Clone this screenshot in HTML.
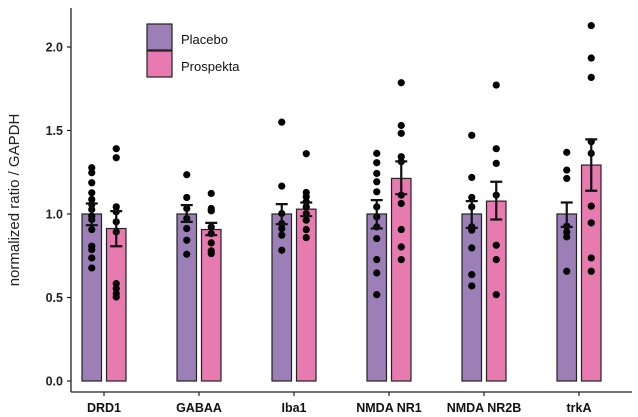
<!DOCTYPE html>
<html><head><meta charset="utf-8"><style>
body{margin:0;background:#fff}
svg{display:block;font-family:"Liberation Sans",Arial,sans-serif}
</style></head><body>
<svg id="chart" width="638" height="417">
<g id="axes"></g><g id="marks"></g>
<g>
<rect x="147" y="24" width="25" height="26" fill="#9b7fb6" stroke="#222" stroke-width="1.2"/>
<rect x="147" y="51" width="25" height="26" fill="#e77aae" stroke="#222" stroke-width="1.2"/>
<text x="181" y="44" font-size="13" fill="#111">Placebo</text>
<text x="181" y="71" font-size="13" fill="#111">Prospekta</text>
</g>
<text transform="translate(19,200) rotate(-90)" text-anchor="middle" font-size="15" fill="#222">normalized ratio / GAPDH</text>
</svg>
<script>
const categories=["DRD1","GABAA","Iba1","NMDA NR1","NMDA NR2B","trkA"];
const placeboMean=[1,1,1,1,1,1];
const placeboErrHi=[1.063,1.053,1.059,1.083,1.077,1.069];
const placeboErrLo=[0.933,0.953,0.939,0.913,0.917,0.923];
const prospektaMean=[0.913,0.907,1.029,1.213,1.077,1.293];
const prospektaErrHi=[1.017,0.947,1.069,1.315,1.193,1.447];
const prospektaErrLo=[0.807,0.873,0.987,1.119,0.967,1.139];
const placeboDots=[
[1.277,1.247,1.187,1.127,1.087,1.057,1.027,0.987,0.967,0.907,0.807,0.787,0.737,0.677],
[1.235,1.099,1.033,0.973,0.913,0.843,0.759],
[1.55,1.167,1.003,0.943,0.913,0.873,0.783],
[1.363,1.307,1.243,1.193,1.133,1.043,0.983,0.923,0.853,0.727,0.647,0.517],
[1.471,1.219,1.099,1.043,0.923,0.903,0.797,0.637,0.569],
[1.369,1.263,1.213,0.927,0.893,0.863,0.657]];
const prospektaDots=[
[1.391,1.337,1.043,1.013,0.953,0.893,0.583,0.553,0.523,0.503],
[1.123,1.033,1.019,0.923,0.883,0.827,0.779,0.763],
[1.361,1.129,1.103,1.073,1.043,1.003,0.963,0.907,0.859],
[1.786,1.53,1.483,1.343,1.313,1.113,1.063,0.907,0.803,0.727],
[1.772,1.391,1.303,1.113,0.813,0.727,0.517],
[2.128,1.934,1.818,1.433,1.363,1.047,0.947,0.737,0.657]];
const yTicks=[0,0.5,1,1.5,2];
const yTickLabels=["0.0","0.5","1.0","1.5","2.0"];

const NS="http://www.w3.org/2000/svg";
const y=v=>381-v*167;
const xc=i=>104+i*95;
const BW=19.5, GAP=2.5;
function mk(tag,attrs,parent){const e=document.createElementNS(NS,tag);for(const k in attrs)e.setAttribute(k,attrs[k]);parent.appendChild(e);return e;}
const axes=document.getElementById('axes'), marks=document.getElementById('marks');
let e=mk('line',{x1:71,y1:8,x2:71,y2:392,stroke:'#222','stroke-width':1.3},axes);


e=mk('line',{x1:71,y1:392,x2:632,y2:392,stroke:'#222','stroke-width':1.3},axes);


yTicks.forEach((v,i)=>{
 e=mk('line',{x1:67,x2:71,y1:y(v),y2:y(v),stroke:'#222','stroke-width':1.2},axes);
 
 
 e=mk('text',{x:63,y:y(v)+4.5,'text-anchor':'end','font-size':12.5,'font-weight':'bold',fill:'#222'},axes);
 e.textContent=yTickLabels[i];
 
 
});
categories.forEach((c,i)=>{
 e=mk('line',{x1:xc(i),x2:xc(i),y1:392,y2:396,stroke:'#222','stroke-width':1.2},axes);
 
 
 e=mk('text',{x:xc(i),y:412,'text-anchor':'middle','font-size':12.5,'font-weight':'bold',fill:'#111'},axes);
 e.textContent=c;
 
 
 const groups=[[placeboMean,placeboErrHi,placeboErrLo,placeboDots,'#9b7fb6',-1,'placebo'],[prospektaMean,prospektaErrHi,prospektaErrLo,prospektaDots,'#e77aae',1,'prospekta']];
 groups.forEach(g=>{
  const cx=xc(i)+g[5]*(BW/2+GAP);
  e=mk('rect',{x:cx-BW/2,y:y(g[0][i]),width:BW,height:y(0)-y(g[0][i]),fill:g[4],stroke:'#222','stroke-width':1.2},marks);
  
  
  g[3][i].forEach(v=>{
   e=mk('circle',{cx:cx,cy:y(v),r:3.6,fill:'#000'},marks);
   
   
  });
  const hi=y(g[1][i]),lo=y(g[2][i]);
  e=mk('path',{d:`M${cx},${hi}V${lo}M${cx-6},${hi}H${cx+6}M${cx-6},${lo}H${cx+6}`,stroke:'#111','stroke-width':2.2,fill:'none'},marks);
  
  
 });
});
</script>
</body></html>
